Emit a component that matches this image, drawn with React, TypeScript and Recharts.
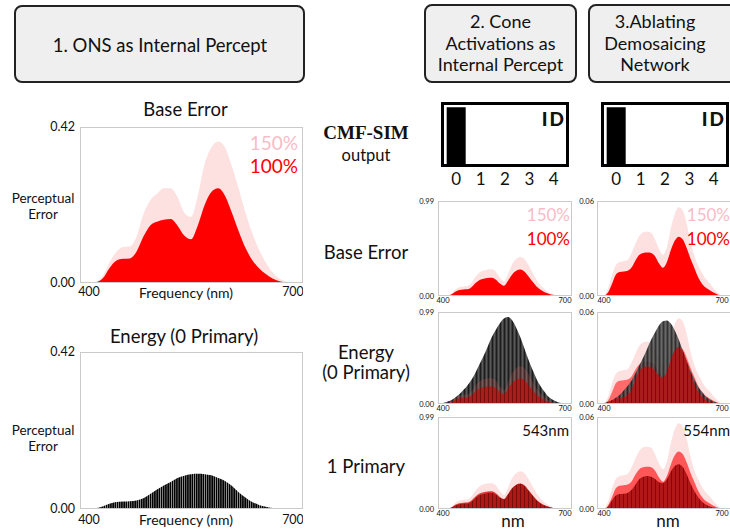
import React from 'react';
import { ComposedChart, Area, XAxis, YAxis, BarChart, Bar } from 'recharts';

const SANS = 'Lato, "Open Sans", "Noto Sans", sans-serif';
const SERIF = '"Liberation Serif", "DejaVu Serif", serif';

// ---------- data ----------
const wavelengths = [400, 410, 420, 430, 440, 450, 460, 470, 480, 490, 500, 510, 520, 530, 540, 550, 560, 570, 580, 590, 600, 610, 620, 630, 640, 650, 660, 670, 680, 690, 700];

// 1. ONS as internal percept
const onsBase100 = [0, 0.002, 0.012, 0.04, 0.06, 0.065, 0.066, 0.085, 0.125, 0.155, 0.165, 0.17, 0.172, 0.155, 0.128, 0.118, 0.155, 0.21, 0.245, 0.255, 0.235, 0.19, 0.14, 0.095, 0.062, 0.04, 0.024, 0.012, 0.005, 0.002, 0];
const onsBase150 = [0, 0.003, 0.018, 0.055, 0.083, 0.097, 0.098, 0.125, 0.185, 0.222, 0.24, 0.255, 0.255, 0.232, 0.19, 0.178, 0.235, 0.32, 0.365, 0.381, 0.365, 0.315, 0.255, 0.19, 0.135, 0.09, 0.055, 0.028, 0.012, 0.004, 0];
const onsEnergy = [0, 0.002, 0.007, 0.014, 0.019, 0.02, 0.021, 0.023, 0.029, 0.04, 0.052, 0.063, 0.072, 0.083, 0.089, 0.093, 0.094, 0.093, 0.09, 0.083, 0.075, 0.062, 0.045, 0.031, 0.019, 0.011, 0.006, 0.003, 0.001, 0.0005, 0];

// 2. Cone activations as internal percept
const coneBase100 = [0, 0.003, 0.015, 0.045, 0.063, 0.068, 0.07, 0.092, 0.135, 0.168, 0.18, 0.188, 0.19, 0.17, 0.13, 0.108, 0.16, 0.225, 0.262, 0.275, 0.255, 0.205, 0.15, 0.1, 0.065, 0.04, 0.024, 0.012, 0.005, 0.002, 0];
const coneBase150 = [0, 0.005, 0.022, 0.065, 0.092, 0.1, 0.102, 0.135, 0.2, 0.245, 0.265, 0.276, 0.278, 0.252, 0.19, 0.15, 0.23, 0.33, 0.385, 0.406, 0.385, 0.325, 0.245, 0.17, 0.11, 0.07, 0.04, 0.02, 0.008, 0.003, 0];
const coneEnergy = [0.01, 0.025, 0.04, 0.07, 0.105, 0.15, 0.2, 0.26, 0.34, 0.43, 0.52, 0.62, 0.72, 0.8, 0.87, 0.92, 0.935, 0.9, 0.82, 0.72, 0.6, 0.48, 0.37, 0.27, 0.19, 0.13, 0.075, 0.045, 0.025, 0.012, 0.005];
const conePrimary1 = [0, 0.002, 0.012, 0.038, 0.052, 0.056, 0.058, 0.078, 0.118, 0.15, 0.162, 0.172, 0.175, 0.155, 0.12, 0.104, 0.16, 0.22, 0.258, 0.272, 0.25, 0.2, 0.145, 0.095, 0.06, 0.037, 0.022, 0.011, 0.005, 0.002, 0];

// 3. Ablating demosaicing network
const ablBase100 = [0, 0.0022, 0.0075, 0.0135, 0.0152, 0.0155, 0.016, 0.018, 0.0225, 0.026, 0.0272, 0.0275, 0.0272, 0.025, 0.0205, 0.0178, 0.0215, 0.029, 0.035, 0.0375, 0.0358, 0.0305, 0.0235, 0.0175, 0.0115, 0.0075, 0.005, 0.0035, 0.002, 0.0008, 0];
const ablBase150 = [0, 0.0045, 0.013, 0.0195, 0.0215, 0.022, 0.0228, 0.027, 0.033, 0.038, 0.0403, 0.0406, 0.04, 0.0355, 0.0295, 0.026, 0.031, 0.043, 0.052, 0.056, 0.054, 0.046, 0.034, 0.025, 0.019, 0.014, 0.0105, 0.0078, 0.0045, 0.002, 0];
const ablEnergy = [0.0006, 0.0015, 0.0024, 0.004, 0.006, 0.0088, 0.0118, 0.0153, 0.02, 0.0252, 0.0305, 0.0362, 0.042, 0.0468, 0.0513, 0.054, 0.0545, 0.0525, 0.048, 0.042, 0.035, 0.028, 0.0216, 0.0158, 0.011, 0.0076, 0.0045, 0.0027, 0.0015, 0.0007, 0.0003];
const ablEnergyRed = [0, 0.001, 0.0025, 0.0035, 0.004, 0.0045, 0.006, 0.0095, 0.016, 0.0215, 0.0238, 0.0245, 0.024, 0.0215, 0.0185, 0.0172, 0.021, 0.029, 0.035, 0.037, 0.0345, 0.028, 0.02, 0.0128, 0.0078, 0.0045, 0.0025, 0.0013, 0.0006, 0.0002, 0];
const ablPrimary1 = [0, 0.0015, 0.0055, 0.0088, 0.0098, 0.01, 0.0105, 0.0125, 0.016, 0.0195, 0.021, 0.0215, 0.021, 0.0195, 0.0175, 0.017, 0.0195, 0.0245, 0.028, 0.0292, 0.0275, 0.0228, 0.0168, 0.0115, 0.0075, 0.0046, 0.0028, 0.0017, 0.0009, 0.0003, 0];

// CMF-SIM output (ID)
const idCategories = ['0', '1', '2', '3', '4'];
const idValues = [1, 0, 0, 0, 0];

const xTicks = [400, 700];
const onsYTicks = [0, 0.42];
const coneYTicks = [0, 0.99];
const ablYTicks = [0, 0.06];

// ---------- helpers ----------
function table(series: Record<string, number[]>) {
  return wavelengths.map((w, i) => {
    const row: any = { w };
    Object.keys(series).forEach((k) => {
      row[k] = series[k][i];
    });
    return row;
  });
}

const idData = idCategories.map((k, i) => ({ k, v: idValues[i] }));

const PINK_FILL = '#fde0e0';
const PINK_TEXT = '#f8bcc6';
const RED = '#ff0000';

type Layer = { key: string; fill: string; opacity?: number };

function Txt(props: any) {
  const { x, y, children, size, color = '#111', weight = 400, family = SANS, align = 'center', spacing } = props;
  const tx = align === 'center' ? '-50%' : align === 'right' ? '-100%' : '0';
  return (
    <div
      style={{
        position: 'absolute',
        left: x,
        top: y,
        transform: `translate(${tx}, -50%)`,
        fontSize: size,
        lineHeight: 1,
        color,
        fontWeight: weight,
        fontFamily: family,
        whiteSpace: 'nowrap',
        letterSpacing: spacing,
      }}
    >
      {children}
    </div>
  );
}

function SpectrumPanel(p: any) {
  const mt = 10;
  const xh = 24;
  const width = p.yw + p.plotW;
  const height = mt + p.plotH + xh;
  const layers: Layer[] = p.layers;
  return (
    <>
      <div style={{ position: 'absolute', left: p.plotX - p.yw, top: p.plotY - mt }}>
        <ComposedChart width={width} height={height} data={p.data} margin={{ top: mt, right: 0, bottom: 0, left: 0 }}>
          <XAxis
            dataKey="w"
            type="number"
            domain={[400, 700]}
            ticks={xTicks}
            padding={{ left: p.padL, right: p.padR }}
            axisLine={false}
            tickLine={false}
            tickSize={0}
            tickMargin={p.xTickMargin}
            height={xh}
            interval={0}
            tick={{ fontSize: p.tickFont, fill: '#111', fontFamily: SANS }}
          />
          <YAxis
            type="number"
            domain={[0, p.yTicks[1]]}
            ticks={p.yTicks}
            tickFormatter={(v: number) => v.toFixed(2)}
            width={p.yw}
            axisLine={false}
            tickLine={false}
            tickSize={0}
            tickMargin={p.yTickMargin}
            interval={0}
            tick={{ fontSize: p.tickFont, fill: '#111', fontFamily: SANS }}
          />
          {layers.map((l) => (
            <Area
              key={l.key}
              dataKey={l.key}
              type="monotone"
              stroke="none"
              fill={l.fill}
              fillOpacity={l.opacity ?? 1}
              isAnimationActive={false}
              dot={false}
              activeDot={false}
            />
          ))}
        </ComposedChart>
      </div>
      <div
        style={{
          position: 'absolute',
          left: p.plotX,
          top: p.plotY,
          width: p.plotW,
          height: p.plotH,
          border: '1px solid #cacaca',
          boxSizing: 'border-box',
          pointerEvents: 'none',
        }}
      />
    </>
  );
}

function IdPanel({ boxX, boxY }: { boxX: number; boxY: number }) {
  const bw = 128;
  const bh = 65;
  const b = 3;
  const plotW = bw - 2 * b;
  const plotH = bh - 2 * b;
  return (
    <>
      <div style={{ position: 'absolute', left: boxX + b, top: boxY + b }}>
        <BarChart width={plotW} height={plotH + 28} data={idData} margin={{ top: 0, right: 0, bottom: 0, left: 0 }} barCategoryGap="11%">
          <XAxis
            dataKey="k"
            axisLine={false}
            tickLine={false}
            tickSize={0}
            tickMargin={9}
            height={28}
            interval={0}
            tick={{ fontSize: 17, fill: '#111', fontFamily: SANS }}
          />
          <YAxis hide domain={[0, 1.04]} />
          <Bar dataKey="v" fill="#000" isAnimationActive={false} />
        </BarChart>
      </div>
      <div
        style={{
          position: 'absolute',
          left: boxX,
          top: boxY,
          width: bw,
          height: bh,
          border: `${b}px solid #000`,
          boxSizing: 'border-box',
          pointerEvents: 'none',
        }}
      />
      <Txt x={boxX + bw - 3} y={boxY + 16} size={19} weight={900} align="right" spacing="2px">
        ID
      </Txt>
    </>
  );
}

function HeaderBox({ x, y, w, h }: any) {
  return (
    <div
      style={{
        position: 'absolute',
        left: x,
        top: y,
        width: w,
        height: h,
        border: '2px solid #222',
        borderRadius: 8,
        background: '#efefef',
        boxSizing: 'border-box',
      }}
    />
  );
}

export default function App() {
  const onsBaseData = table({ b150: onsBase150, b100: onsBase100 });
  const onsEnergyData = table({ e: onsEnergy });
  const coneBaseData = table({ b150: coneBase150, b100: coneBase100 });
  const coneEnergyData = table({ e: coneEnergy, b150: coneBase150, b100: coneBase100 });
  const conePrimData = table({ b150: coneBase150, b100: coneBase100, p1: conePrimary1 });
  const ablBaseData = table({ b150: ablBase150, b100: ablBase100 });
  const ablEnergyData = table({ b150: ablBase150, b100: ablBase100, e: ablEnergy, er: ablEnergyRed });
  const ablPrimData = table({ b150: ablBase150, b100: ablBase100, p1: ablPrimary1 });

  const leftCommon = { plotX: 80, plotW: 223, yw: 60, padL: 9, padR: 10, tickFont: 12.5, yTickMargin: 5, yTicks: onsYTicks };
  const midCommon = { plotX: 438, plotW: 134, yw: 30, padL: 5, padR: 7, tickFont: 7.5, yTickMargin: 4, yTicks: coneYTicks, xTickMargin: 2 };
  const rightCommon = { plotX: 597, plotW: 134, yw: 30, padL: 7, padR: 9, tickFont: 7.5, yTickMargin: 3, yTicks: ablYTicks, xTickMargin: 2 };

  return (
    <div
      style={{
        position: 'absolute',
        left: 0,
        top: 0,
        width: 730,
        height: 529,
        overflow: 'hidden',
        background: '#fff',
        fontFamily: SANS,
      }}
    >
      <svg width={0} height={0} style={{ position: 'absolute' }}>
        <defs>
          <pattern id="pBlack" patternUnits="userSpaceOnUse" width="2.2" height="10">
            <rect width="2.2" height="10" fill="#000" />
            <rect x="1.6" width="0.6" height="10" fill="#fff" fillOpacity="0.75" />
          </pattern>
          <pattern id="pGray" patternUnits="userSpaceOnUse" width="4" height="10">
            <rect width="4" height="10" fill="#3d3d3d" />
            <rect x="0" width="1" height="10" fill="#1c1c1c" />
            <rect x="2" width="1" height="10" fill="#595959" />
          </pattern>
          <pattern id="pDarkRed" patternUnits="userSpaceOnUse" width="4" height="10">
            <rect width="4" height="10" fill="#b01818" />
            <rect x="0" width="1" height="10" fill="#7c0c0c" />
          </pattern>
        </defs>
      </svg>

      {/* headers */}
      <HeaderBox x={14} y={5} w={291} h={78} />
      <Txt x={160} y={45} size={18.5}>1. ONS as Internal Percept</Txt>
      <HeaderBox x={424} y={4} w={153} h={79} />
      <Txt x={500.5} y={21} size={18}>2. Cone</Txt>
      <Txt x={500.5} y={42.5} size={18}>Activations as</Txt>
      <Txt x={500.5} y={64} size={18}>Internal Percept</Txt>
      <HeaderBox x={588} y={4} w={160} h={79} />
      <Txt x={655} y={21} size={18}>3.Ablating</Txt>
      <Txt x={655} y={42.5} size={18}>Demosaicing</Txt>
      <Txt x={655} y={64} size={18}>Network</Txt>

      {/* left column */}
      <Txt x={185.5} y={108.5} size={18.5}>Base Error</Txt>
      <SpectrumPanel
        {...leftCommon}
        plotY={127}
        plotH={156}
        xTickMargin={4}
        data={onsBaseData}
        layers={[
          { key: 'b150', fill: PINK_FILL },
          { key: 'b100', fill: RED },
        ]}
      />
      <Txt x={43} y={199} size={13.5}>Perceptual</Txt>
      <Txt x={43} y={214.5} size={13.5}>Error</Txt>
      <Txt x={186} y={293} size={14}>Frequency (nm)</Txt>
      <Txt x={298} y={142} size={19} color={PINK_TEXT} align="right">150%</Txt>
      <Txt x={298} y={164.5} size={19} color={RED} align="right">100%</Txt>

      <Txt x={184} y={336} size={18.5}>Energy (0 Primary)</Txt>
      <SpectrumPanel
        {...leftCommon}
        plotY={352}
        plotH={157}
        xTickMargin={6}
        data={onsEnergyData}
        layers={[{ key: 'e', fill: 'url(#pBlack)' }]}
      />
      <Txt x={43} y={431} size={13.5}>Perceptual</Txt>
      <Txt x={43} y={446.5} size={13.5}>Error</Txt>
      <Txt x={186} y={520} size={14}>Frequency (nm)</Txt>

      {/* row labels */}
      <Txt x={366} y={132} size={19} weight={700} family={SERIF}>CMF-SIM</Txt>
      <Txt x={366} y={155} size={16.5}>output</Txt>
      <Txt x={366} y={252} size={18.5}>Base Error</Txt>
      <Txt x={366} y={352} size={18.5}>Energy</Txt>
      <Txt x={366} y={372} size={18.5}>(0 Primary)</Txt>
      <Txt x={366} y={466} size={18.5}>1 Primary</Txt>

      {/* middle column */}
      <IdPanel boxX={441} boxY={102} />
      <SpectrumPanel
        {...midCommon}
        plotY={201}
        plotH={95}
        data={coneBaseData}
        layers={[
          { key: 'b150', fill: PINK_FILL },
          { key: 'b100', fill: RED },
        ]}
      />
      <Txt x={570} y={214} size={17} color={PINK_TEXT} align="right">150%</Txt>
      <Txt x={570} y={238} size={17} color={RED} align="right">100%</Txt>
      <SpectrumPanel
        {...midCommon}
        plotY={312}
        plotH={92}
        data={coneEnergyData}
        layers={[
          { key: 'e', fill: 'url(#pGray)' },
          { key: 'b150', fill: '#ff6060', opacity: 0.18 },
          { key: 'b100', fill: 'url(#pDarkRed)', opacity: 0.9 },
        ]}
      />
      <SpectrumPanel
        {...midCommon}
        plotY={417}
        plotH={92}
        data={conePrimData}
        layers={[
          { key: 'b150', fill: PINK_FILL },
          { key: 'b100', fill: '#e23a3a' },
          { key: 'p1', fill: 'url(#pDarkRed)' },
        ]}
      />
      <Txt x={569} y={430} size={15} align="right">543nm</Txt>
      <Txt x={513} y={520} size={17}>nm</Txt>

      {/* right column */}
      <IdPanel boxX={601} boxY={102} />
      <SpectrumPanel
        {...rightCommon}
        plotY={201}
        plotH={95}
        data={ablBaseData}
        layers={[
          { key: 'b150', fill: PINK_FILL },
          { key: 'b100', fill: RED },
        ]}
      />
      <Txt x={730} y={214} size={17} color={PINK_TEXT} align="right">150%</Txt>
      <Txt x={730} y={238} size={17} color={RED} align="right">100%</Txt>
      <SpectrumPanel
        {...rightCommon}
        plotY={312}
        plotH={92}
        data={ablEnergyData}
        layers={[
          { key: 'b150', fill: PINK_FILL },
          { key: 'b100', fill: '#ff6b6b' },
          { key: 'e', fill: 'url(#pGray)', opacity: 0.9 },
          { key: 'er', fill: 'url(#pDarkRed)', opacity: 0.92 },
        ]}
      />
      <SpectrumPanel
        {...rightCommon}
        plotY={417}
        plotH={92}
        data={ablPrimData}
        layers={[
          { key: 'b150', fill: PINK_FILL },
          { key: 'b100', fill: '#ff5757' },
          { key: 'p1', fill: 'url(#pDarkRed)' },
        ]}
      />
      <Txt x={730} y={430} size={15} align="right">554nm</Txt>
      <Txt x={668} y={520} size={17}>nm</Txt>
    </div>
  );
}
